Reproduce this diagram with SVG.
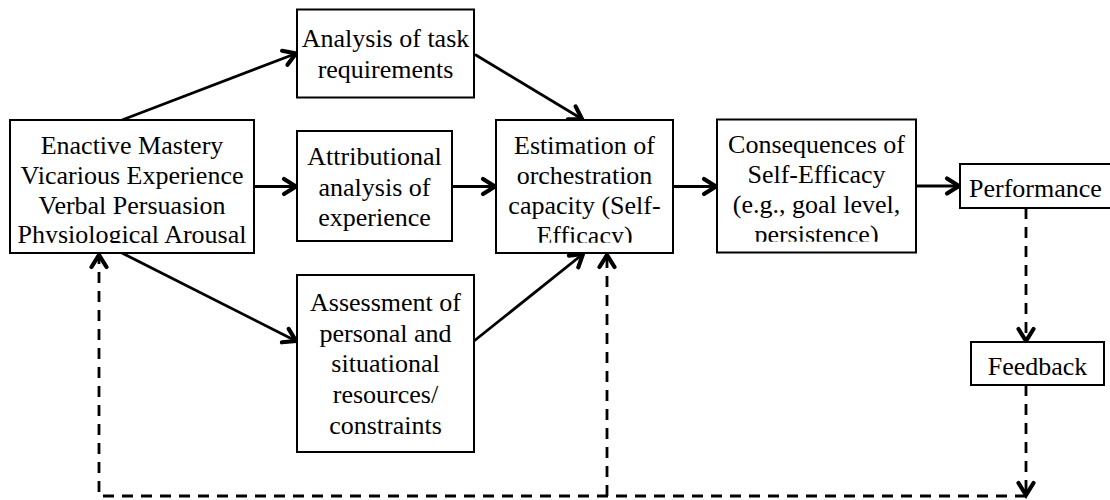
<svg xmlns="http://www.w3.org/2000/svg" width="1110" height="500" viewBox="0 0 1110 500">
<style>
.box{fill:#fff;stroke:#000;stroke-width:2}
.t{font-family:"Liberation Serif","Times New Roman",serif;font-size:26px;fill:#000;text-anchor:middle}
.ln{stroke:#000;stroke-width:2.8;fill:none}
.ds{stroke:#000;stroke-width:2.8;fill:none;stroke-dasharray:11 8}
</style>
<defs>
<marker id="ah" markerUnits="userSpaceOnUse" viewBox="-16 -10 18 20" refX="0" refY="0" markerWidth="18" markerHeight="20" orient="auto" overflow="visible">
<path d="M-12,-7.5 L0,0 L-12,7.5" fill="none" stroke="#000" stroke-width="4.2" stroke-linecap="round" stroke-linejoin="miter" stroke-dasharray="none"/>
</marker>
<clipPath id="c1"><rect x="10" y="120" width="244" height="123"/></clipPath>
<clipPath id="c4"><rect x="496" y="120" width="177" height="122.7"/></clipPath>
<clipPath id="c5"><rect x="717" y="119" width="199" height="122.7"/></clipPath>
</defs>
<g id="connectors">
<line class="ln" x1="122" y1="120" x2="296" y2="53.5" marker-end="url(#ah)"/>
<line class="ln" x1="254" y1="186.5" x2="296" y2="186.5" marker-end="url(#ah)"/>
<line class="ln" x1="122" y1="253" x2="296" y2="341" marker-end="url(#ah)"/>
<line class="ln" x1="475" y1="54.5" x2="582" y2="119" marker-end="url(#ah)"/>
<line class="ln" x1="452" y1="186.5" x2="495" y2="186.5" marker-end="url(#ah)"/>
<line class="ln" x1="474" y1="341" x2="583" y2="254" marker-end="url(#ah)"/>
<line class="ln" x1="673" y1="186.5" x2="716" y2="186.5" marker-end="url(#ah)"/>
<line class="ln" x1="916" y1="186" x2="959" y2="186" marker-end="url(#ah)"/>
<line class="ds" x1="1026" y1="208" x2="1026" y2="341" marker-end="url(#ah)"/>
<line class="ds" x1="1026" y1="385" x2="1026" y2="495" marker-end="url(#ah)"/>
<polyline class="ds" points="1026,496 99,496 99,255" marker-end="url(#ah)"/>
<line class="ds" x1="607" y1="496" x2="607" y2="255" marker-end="url(#ah)"/>
</g>
<g id="sources">
<rect class="box" x="10" y="120" width="244" height="133"/>
<g clip-path="url(#c1)">
<text class="t" x="132" y="154">Enactive Mastery</text>
<text class="t" x="132" y="183.8">Vicarious Experience</text>
<text class="t" x="132" y="213.6">Verbal Persuasion</text>
<text class="t" x="132" y="243.4">Physiological Arousal</text>
</g>
</g>
<g id="task">
<rect class="box" x="297" y="9.5" width="177" height="88"/>
<text class="t" x="385.5" y="47">Analysis of task</text>
<text class="t" x="385.5" y="78">requirements</text>
</g>
<g id="attrib">
<rect class="box" x="297" y="131" width="155" height="110"/>
<text class="t" x="374.5" y="165">Attributional</text>
<text class="t" x="374.5" y="195.5">analysis of</text>
<text class="t" x="374.5" y="226">experience</text>
</g>
<g id="assess">
<rect class="box" x="297" y="275" width="177" height="177"/>
<text class="t" x="385.5" y="310.7">Assessment of</text>
<text class="t" x="385.5" y="341.5">personal and</text>
<text class="t" x="385.5" y="372.3">situational</text>
<text class="t" x="385.5" y="403.1">resources/</text>
<text class="t" x="385.5" y="434">constraints</text>
</g>
<g id="estimation">
<rect class="box" x="496" y="120" width="177" height="133"/>
<g clip-path="url(#c4)">
<text class="t" x="584.5" y="154">Estimation of</text>
<text class="t" x="584.5" y="184">orchestration</text>
<text class="t" x="584.5" y="214">capacity (Self-</text>
<text class="t" x="584.5" y="244">Efficacy)</text>
</g>
</g>
<g id="consequences">
<rect class="box" x="717" y="119.5" width="199" height="133"/>
<g clip-path="url(#c5)">
<text class="t" x="816.5" y="153.3">Consequences of</text>
<text class="t" x="816.5" y="183.3">Self-Efficacy</text>
<text class="t" x="816.5" y="213">(e.g., goal level,</text>
<text class="t" x="816.5" y="243">persistence)</text>
</g>
</g>
<g id="performance">
<rect class="box" x="960" y="164" width="155" height="44"/>
<text class="t" x="969" y="196.7" style="text-anchor:start">Performance</text>
</g>
<g id="feedback">
<rect class="box" x="971" y="342" width="133" height="43"/>
<text class="t" x="1037.5" y="375">Feedback</text>
</g>
</svg>
